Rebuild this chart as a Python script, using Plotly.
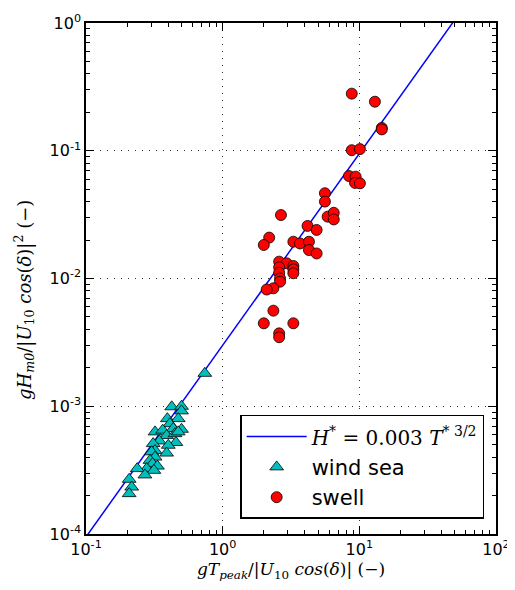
import plotly.graph_objects as go

# wind sea points (T*, H*)
wind_T = [0.424, 0.50, 0.50, 0.394, 0.473, 0.411, 0.32, 0.364, 0.435, 0.50, 0.389, 0.448,
          0.473, 0.344, 0.31, 0.455, 0.40, 0.32, 0.302, 0.389, 0.32, 0.294, 0.307, 0.333,
          0.278, 0.314, 0.237, 0.27, 0.207, 0.216, 0.207, 0.74]
wind_H = [0.00099, 0.0010, 0.00092, 0.0008, 0.0008, 0.00073, 0.00063, 0.00065, 0.00067, 0.00066,
          0.00059, 0.00061, 0.00063, 0.000535, 0.00051, 0.00052, 0.000495, 0.00045, 0.00044,
          0.00043, 0.0004, 0.000377, 0.000356, 0.00034, 0.000325, 0.000315, 0.000325, 0.00029,
          0.000268, 0.000233, 0.000207, 0.00181]

# swell points (T*, H*)
swell_T = [8.8, 13.0, 14.6, 14.6, 8.8, 10.1, 8.4, 9.4, 9.3, 10.1, 5.6, 5.6, 2.67, 5.86, 6.5,
           6.5, 4.18, 4.87, 2.19, 2.0, 3.29, 3.68, 4.28, 4.28, 4.87, 2.59, 2.94, 2.59, 2.59,
           3.29, 3.29, 3.29, 2.63, 2.63, 2.35, 2.1, 2.35, 2.0, 3.29, 2.59, 2.59]
swell_H = [0.28, 0.242, 0.151, 0.147, 0.101, 0.103, 0.0634, 0.0627, 0.056, 0.0556, 0.0465,
           0.040, 0.0314, 0.0305, 0.0327, 0.029, 0.0258, 0.024, 0.0209, 0.0183, 0.0194, 0.0188,
           0.0194, 0.0167, 0.0157, 0.01355, 0.01315, 0.01225, 0.0111, 0.01253, 0.0118, 0.011,
           0.010, 0.00944, 0.00838, 0.0082, 0.0056, 0.00446, 0.00446, 0.00372, 0.00347]

# fit line H* = 0.003 T*^(3/2)
coef = 0.003
expo = 1.5
line_T = [0.1, 0.2, 0.5, 1, 2, 5, 10, 20, 50, 100]
line_H = [coef * t ** expo for t in line_T]

x_tickvals = [0.1, 1, 10, 100]
x_ticktext = ["10<sup>-1</sup>", "10<sup>0</sup>", "10<sup>1</sup>", "10<sup>2</sup>"]
y_tickvals = [1e-4, 1e-3, 1e-2, 1e-1, 1]
y_ticktext = ["10<sup>-4</sup>", "10<sup>-3</sup>", "10<sup>-2</sup>", "10<sup>-1</sup>", "10<sup>0</sup>"]

x_minor = [m * d for d in x_tickvals[:-1] for m in range(2, 10)]
y_minor = [m * d for d in y_tickvals[:-1] for m in range(2, 10)]

serif = "DejaVu Serif"
sans = "DejaVu Sans"

fig = go.Figure()
fig.add_trace(go.Scatter(
    x=line_T, y=line_H, mode="lines",
    line=dict(color="#0000ff", width=1.5),
    name=("<span style='font-family:DejaVu Serif;font-size:20px'><i>H</i><sup>*</sup> = 0.003 "
          "<i>T</i><sup>* 3/2</sup></span>")))
fig.add_trace(go.Scatter(
    x=wind_T, y=wind_H, mode="markers",
    marker=dict(symbol="triangle-up", size=12, color="#00bfbf",
                line=dict(color="black", width=0.8)),
    name="wind sea"))
fig.add_trace(go.Scatter(
    x=swell_T, y=swell_H, mode="markers",
    marker=dict(symbol="circle", size=11, color="#ff0000",
                line=dict(color="black", width=0.8)),
    name="swell"))
# invisible trace to attach the minor-tick axes
fig.add_trace(go.Scatter(
    x=line_T, y=line_H, mode="lines", line=dict(width=0), opacity=0,
    xaxis="x2", yaxis="y2", showlegend=False, hoverinfo="skip"))

axis_common = dict(
    type="log", ticks="inside", tickwidth=1, tickcolor="black",
    zeroline=False, automargin=False, mirror="ticks",
    tickfont=dict(family=sans, size=16, color="black"),
    ticklabeloverflow="allow",
)

fig.update_layout(
    xaxis=dict(**axis_common, range=[-1, 2], tickvals=x_tickvals, ticktext=x_ticktext,
               ticklen=8, showline=True, linecolor="black", linewidth=1.5,
               showgrid=True, gridcolor="#333333", griddash="1px,6px", gridwidth=1.2,
               title=dict(text="<i>gT<sub>peak</sub></i>/|<i>U</i><sub>10</sub> "
                               "<i>cos</i>(<i>δ</i>)| (−)",
                          font=dict(family=serif, size=17, color="black"), standoff=10)),
    yaxis=dict(**axis_common, range=[-4, 0], tickvals=y_tickvals, ticktext=y_ticktext,
               ticklen=8, showline=True, linecolor="black", linewidth=1.5,
               showgrid=True, gridcolor="#333333", griddash="1px,6px", gridwidth=1.2),
    xaxis2=dict(**axis_common, range=[-1, 2], tickvals=x_minor, showticklabels=False,
                ticklen=4, overlaying="x", side="bottom", showline=False, showgrid=False),
    yaxis2=dict(**axis_common, range=[-4, 0], tickvals=y_minor, showticklabels=False,
                ticklen=4, overlaying="y", side="left", showline=False, showgrid=False),
)

# y axis title as rotated text, placed like the reference
fig.add_annotation(
    text="<i>gH<sub>m0</sub></i>/|<i>U</i><sub>10</sub> <i>cos</i>(<i>δ</i>)|<sup>2</sup> (−)",
    xref="paper", yref="paper", x=0, y=0.458, xshift=-62, xanchor="center", yanchor="middle",
    textangle=-90, showarrow=False, font=dict(family=serif, size=18, color="black"))

# page body has an 8px default margin, so the figure is sized to fit the window
fig.update_layout(
    width=507, height=574,
    margin=dict(l=78, r=19, t=15, b=48),
    paper_bgcolor="white", plot_bgcolor="white",
    showlegend=True,
    legend=dict(x=0.376, y=0.233, xanchor="left", yanchor="top",
                bgcolor="white", bordercolor="black", borderwidth=1.5,
                font=dict(family=sans, size=21, color="black"),
                itemwidth=60, tracegroupgap=0),
)

fig.write_html("out.html")
